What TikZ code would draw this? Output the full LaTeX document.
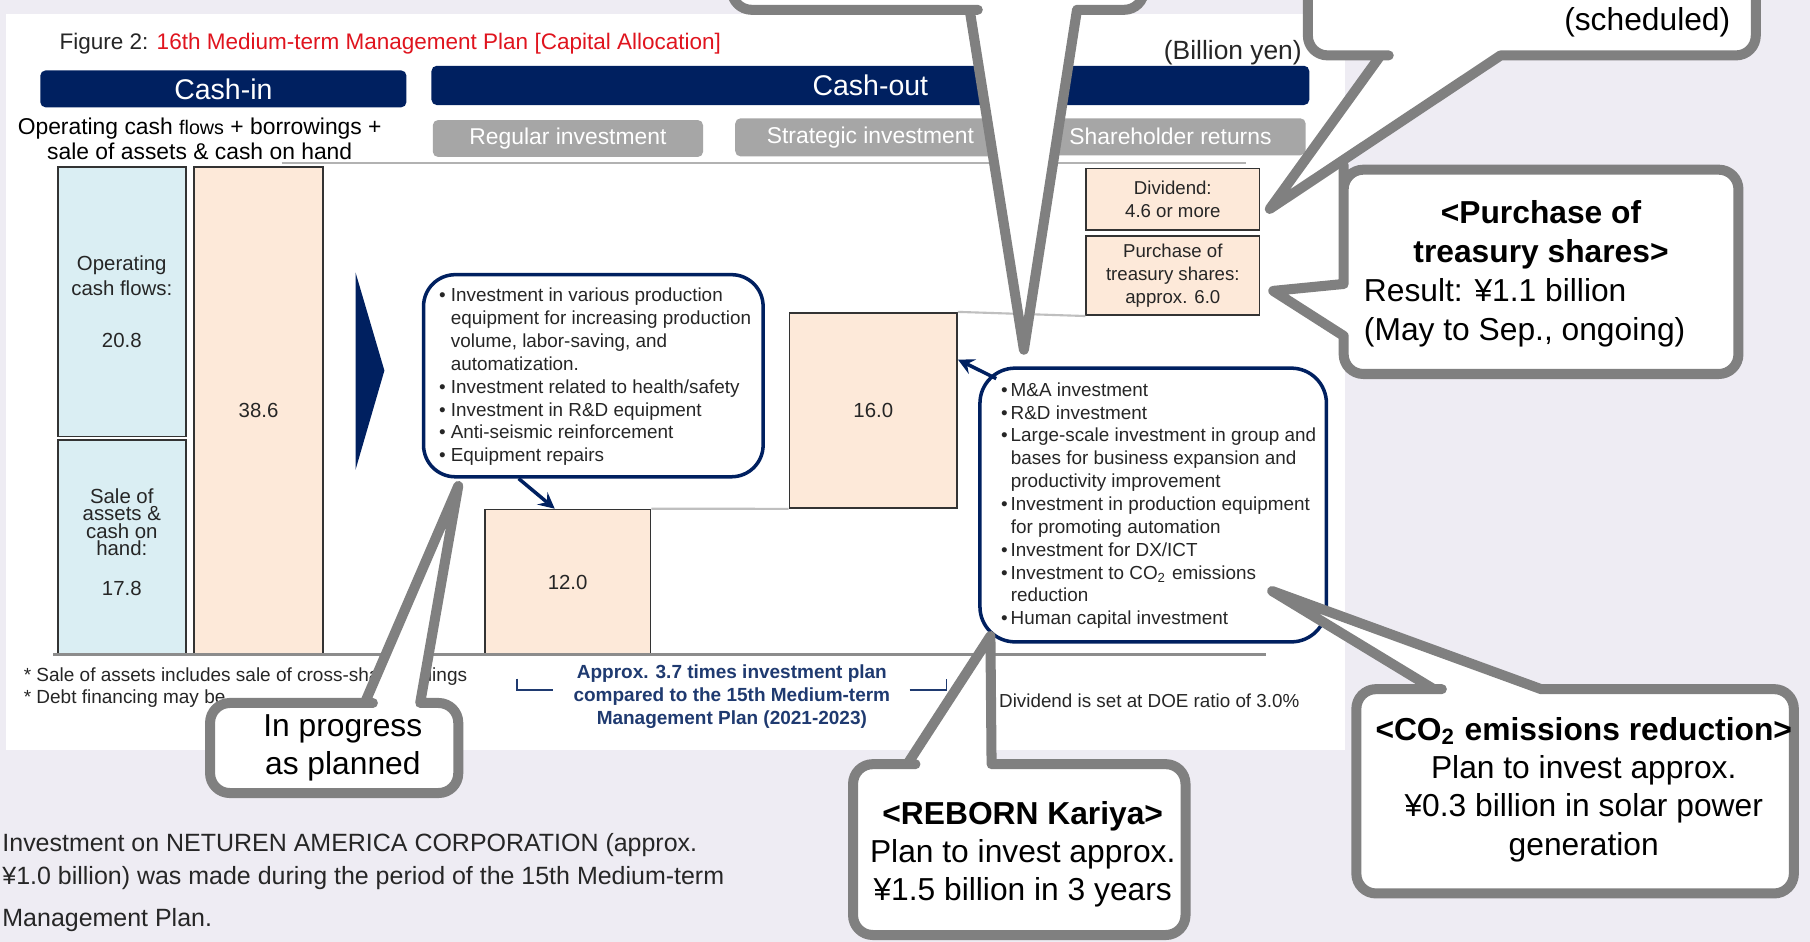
\documentclass[tikz,border=0pt]{standalone}
\usepackage{fontspec}
\setmainfont{Liberation Sans}
\usepackage{xcolor}

\definecolor{cashnavy}{HTML}{002060}
\definecolor{hdrgray}{HTML}{A6A6A6}
\definecolor{paleblue}{HTML}{DAEEF3}
\definecolor{peach}{HTML}{FDE9D9}
\definecolor{lavender}{HTML}{EEECF3}
\definecolor{callgray}{HTML}{808080}
\definecolor{titlered}{HTML}{E0141E}
\definecolor{textgray}{HTML}{262626}
\definecolor{notenavy}{HTML}{1F3A70}

\begin{document}
\begin{tikzpicture}[x=0.011543cm, y=-0.011543cm,
    wh/.style 2 args={minimum width=#1*0.3284pt, minimum height=#2*0.3284pt, inner sep=0pt},
    valbox/.style={draw=black!80, line width=0.5pt, text=textgray, align=center, font=\fontsize{5.8pt}{6.9pt}\selectfont},
    bluebar/.style={valbox, fill=paleblue},
    peachbar/.style={valbox, fill=peach},
    headbar/.style={fill=cashnavy, text=white, rounded corners=1.5pt, font=\fontsize{8.1pt}{9pt}\selectfont},
    subhead/.style={fill=hdrgray, text=white, rounded corners=1.5pt, font=\fontsize{6.5pt}{7pt}\selectfont},
    listbox/.style={draw=cashnavy, line width=1pt, rounded corners=9pt, fill=white},
    listtext/.style={anchor=west, inner sep=0pt, align=left, text=textgray, font=\fontsize{5.37pt}{6.5pt}\selectfont},
    notetext/.style={text=textgray, inner sep=0pt, font=\fontsize{5.4pt}{6.3pt}\selectfont},
    callout/.style={draw=callgray, fill=white, line width=2.85pt, line join=round},
    calltext/.style={align=center, inner sep=0pt, font=\fontsize{9.03pt}{10.9pt}\selectfont},
    navyarrow/.style={draw=cashnavy, line width=1pt, -stealth},
    thinrule/.style={draw=black!30, line width=0.5pt}]

\useasboundingbox (0,0) rectangle (1568,816);
\clip (0,0) rectangle (1568,816);
\fill[lavender] (0,0) rectangle (1568,816);
\fill[white] (5,12) rectangle (1165,650);

% heading
\node[anchor=west, inner sep=0pt, font=\fontsize{6.4pt}{7.5pt}\selectfont] (title) at (51,37.5)
  {\textcolor{textgray}{Figure 2:} \textcolor{titlered}{16th Medium-term Management Plan [Capital Allocation]}};
\node[text=textgray, inner sep=0pt, font=\fontsize{7.5pt}{8pt}\selectfont] (unit) at (1068,46) {(Billion yen)};
\node[headbar, wh={317}{32}] (cashin) at (193.5,77) {Cash-in};
\node[headbar, wh={760}{34}] (cashout) at (754,74) {Cash-out};
\node[align=center, inner sep=0pt, font=\fontsize{6.5pt}{7.2pt}\selectfont] (source) at (173,120.5)
  {Operating cash {\fontsize{5.6pt}{7.2pt}\selectfont flows} + borrowings +\\sale of assets \& cash on hand};
\node[subhead, wh={234}{32}] (regular) at (492,120) {Regular investment};
\node[subhead, wh={234}{33}] (strategic) at (754,119) {Strategic investment};
\node[subhead, wh={234}{32}] (returns) at (1014,118.5) {Shareholder returns};
\draw[thinrule] (244,141) -- (1079,141);

% bars
\node[bluebar, wh={111}{233}] (opcf) at (105.5,261.5) {Operating\\cash flows:\\[7.9pt]20.8};
\node[bluebar, wh={111}{186}] (sale) at (105.5,474) {};
\node[text=textgray, align=center, inner sep=0pt, font=\fontsize{5.8pt}{4.9pt}\selectfont] (saletext) at (105.5,470)
  {Sale of\\assets \&\\cash on\\hand:\\[6.6pt]17.8};
\node[peachbar, wh={112}{422}] (total) at (224,356) {38.6};
\fill[cashnavy] (308,236) -- (333,321) -- (308,407) -- cycle;
\node[peachbar, wh={143.5}{125.5}] (regval) at (491.75,504.25) {12.0};
\node[peachbar, wh={145}{169}] (strval) at (756.5,355.5) {16.0};
\node[peachbar, wh={150}{53}, font=\fontsize{5.3pt}{6.6pt}\selectfont] (dividend) at (1016,172.5) {Dividend:\\4.6 or more};
\node[peachbar, wh={150}{68.5}, font=\fontsize{5.3pt}{6.6pt}\selectfont] (treasury) at (1016,238.75) {Purchase of\\treasury shares:\\approx. 6.0};
\draw[draw=black!25, line width=0.6pt] (regval.north east) -- (strval.south west);
\draw[draw=black!25, line width=0.6pt] (strval.north east) -- (treasury.south west);
\draw[draw=black!45, line width=0.6pt] (46,567) -- (1097,567);

% lists
\node[listbox, wh={294}{175}] (reglist) at (514,325.5) {};
\node[listtext] (regitems) at (390,326.5)
  {\llap{\textbullet\ }Investment in various production\\
   equipment for increasing production\\
   volume, labor-saving, and\\
   automatization.\\
   \llap{\textbullet\ }Investment related to health/safety\\
   \llap{\textbullet\ }Investment in R\&D equipment\\
   \llap{\textbullet\ }Anti-seismic reinforcement\\
   \llap{\textbullet\ }Equipment repairs};
\node[listbox, wh={300}{237}, rounded corners=10pt] (strlist) at (999,437.5) {};
\node[listtext] (stritems) at (875,438)
  {\llap{\textbullet\,}M\&A investment\\
   \llap{\textbullet\,}R\&D investment\\
   \llap{\textbullet\,}Large-scale investment in group and\\
   bases for business expansion and\\
   productivity improvement\\
   \llap{\textbullet\,}Investment in production equipment\\
   for promoting automation\\
   \llap{\textbullet\,}Investment for DX/ICT\\
   \llap{\textbullet\,}Investment to CO\textsubscript{2} emissions\\
   reduction\\
   \llap{\textbullet\,}Human capital investment};
\coordinate (strtail) at (863,328);
\draw[navyarrow] (reglist.-126) -- (regval.100);
\draw[navyarrow] (strtail) -- (strval.31);

% notes under the chart
\node[notetext, anchor=west] (note1) at (20,586) {* Sale of assets includes sale of cross-shareholdings};
\node[notetext, anchor=west] (note2) at (20,605) {* Debt financing may be};
\node[notetext, align=center, text=notenavy, font=\bfseries\fontsize{5.4pt}{6.6pt}\selectfont] (times) at (634,603.5)
  {Approx. 3.7 times investment plan\\compared to the 15th Medium-term\\Management Plan (2021-2023)};
\draw[notenavy, line width=0.5pt] (448,588) -- (448,598) -- (479,598);
\draw[notenavy, line width=0.5pt] (788,598) -- (820,598) -- (820,588);
\node[notetext, anchor=west, font=\fontsize{5.35pt}{6.3pt}\selectfont] (doe) at (865,607) {Dividend is set at DOE ratio of 3.0\%};
\node[anchor=west, inner sep=0pt, text=textgray, font=\fontsize{7.1pt}{8pt}\selectfont] (para1) at (1.5,732) {Investment on NETUREN AMERICA CORPORATION (approx.};
\node[anchor=west, inner sep=0pt, text=textgray, font=\fontsize{7.1pt}{8pt}\selectfont] (para2) at (1.5,760.5) {¥1.0 billion) was made during the period of the 15th Medium-term};
\node[anchor=west, inner sep=0pt, text=textgray, font=\fontsize{7.1pt}{8pt}\selectfont] (para3) at (1.5,797) {Management Plan.};

% callouts
\draw[callout] (840,8.5) -- (887,303) -- (933,8.5) -- (943,8.5) [rounded corners=5.6pt] -- (991,8.5) -- (991,-60) -- (634,-60) -- (634,8.5) -- (830,8.5) [sharp corners] -- cycle;
\draw[callout] (1196,48) -- (1100,181) -- (1300,48) -- (1310,48) [rounded corners=5.6pt] -- (1521,48) -- (1521,-60) -- (1133,-60) -- (1133,48) -- (1186,48) [sharp corners] -- cycle;
\draw[callout] (1164,246) -- (1103,252) -- (1164,291) -- (1164,300) [rounded corners=5.6pt] -- (1164,324) -- (1506,324) -- (1506,147) -- (1164,147) -- (1164,160) [sharp corners] -- cycle;
\draw[callout] (1242,597) -- (1102,512) -- (1335,597) -- (1345,597) [rounded corners=5.6pt] -- (1554,597) -- (1554,774) -- (1175,774) -- (1175,597) -- (1232,597) [sharp corners] -- cycle;
\draw[callout] (786,662) -- (858,551) -- (859,662) -- (870,662) [rounded corners=5.6pt] -- (1027,662) -- (1027,810) -- (739,810) -- (739,662) -- (776,662) [sharp corners] -- cycle;
\draw[callout] (316,609) -- (397,421) -- (364,609) -- (374,609) [rounded corners=5.6pt] -- (397,609) -- (397,687) -- (182,687) -- (182,609) -- (306,609) [sharp corners] -- cycle;

\node[calltext] (schedtext) at (1427,19) {(scheduled)};
\node[calltext] (purhead) at (1335,203.5) {\textbf{<Purchase of}\\\textbf{treasury shares>}};
\node[calltext, anchor=west, align=left] (purbody) at (1181,271) {Result: ¥1.1 billion\\(May to Sep., ongoing)};
\node[calltext] (co2text) at (1372,684) {\textbf{<CO\textsubscript{2} emissions reduction>}\\Plan to invest approx.\\¥0.3 billion in solar power\\generation};
\node[calltext] (reborntext) at (886,740) {\textbf{<REBORN Kariya>}\\Plan to invest approx.\\¥1.5 billion in 3 years};
\node[calltext] (progtext) at (297,648) {In progress\\as planned};
\end{tikzpicture}
\end{document}
